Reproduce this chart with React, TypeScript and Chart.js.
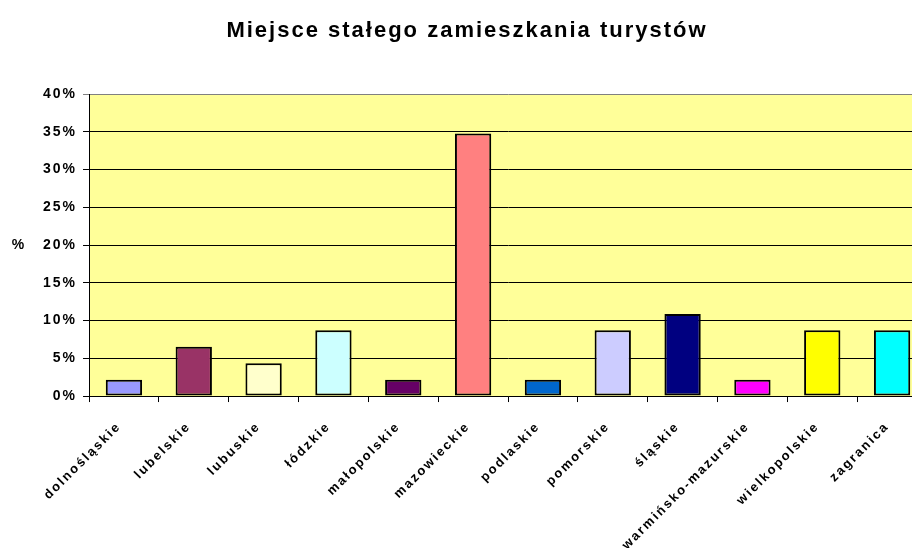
import React, { useEffect, useRef } from "react";
import { Chart, registerables } from "chart.js";

Chart.register(...registerables);

const TITLE = "Miejsce stałego zamieszkania turystów";
const Y_LABEL = "%";
const categories = [
  "dolnośląskie",
  "lubelskie",
  "lubuskie",
  "łódzkie",
  "małopolskie",
  "mazowieckie",
  "podlaskie",
  "pomorskie",
  "śląskie",
  "warmińsko-mazurskie",
  "wielkopolskie",
  "zagranica",
];
const values = [2.17, 6.52, 4.35, 8.7, 2.17, 34.78, 2.17, 8.7, 10.87, 2.17, 8.7, 8.7];
const barColors = [
  "#9999FF",
  "#993366",
  "#FFFFCC",
  "#CCFFFF",
  "#660066",
  "#FF8080",
  "#0066CC",
  "#CCCCFF",
  "#000080",
  "#FF00FF",
  "#FFFF00",
  "#00FFFF",
];
const yTicks = [0, 5, 10, 15, 20, 25, 30, 35, 40];

const FONT = "Arial, 'Liberation Sans', sans-serif";

const setSpacing = (chart: any) => {
  try {
    chart.ctx.letterSpacing = "2px";
  } catch (e) {}
};

const bgPlugin = {
  id: "plotBg",
  beforeInit: setSpacing,
  beforeUpdate: setSpacing,
  beforeLayout: setSpacing,
  beforeDraw(chart: any) {
    setSpacing(chart);
    const { ctx, chartArea } = chart;
    ctx.save();
    ctx.fillStyle = "#FFFF99";
    ctx.fillRect(chartArea.left, chartArea.top, chartArea.right - chartArea.left, chartArea.bottom - chartArea.top);
    ctx.restore();
  },
  afterDraw(chart: any) {
    const { ctx } = chart;
    const y = chart.scales.y;
    ctx.save();
    ctx.fillStyle = "#000";
    ctx.font = `bold 14px ${FONT}`;
    ctx.textAlign = "center";
    ctx.textBaseline = "middle";
    ctx.fillText(Y_LABEL, 11, y.getPixelForValue(20));
    ctx.font = `bold 22px ${FONT}`;
    ctx.textBaseline = "alphabetic";
    ctx.fillText(TITLE, 459, 29);
    ctx.restore();
  },
};

export default function App() {
  const ref = useRef<HTMLCanvasElement>(null);
  useEffect(() => {
    if (!ref.current) return;
    const chart = new Chart(ref.current, {
      type: "bar",
      data: {
        labels: categories,
        datasets: [
          {
            data: values,
            backgroundColor: barColors,
            borderColor: "#000",
            borderWidth: 2,
            borderSkipped: false,
            categoryPercentage: 1,
            barPercentage: 0.52,
          },
        ],
      },
      options: {
        responsive: false,
        animation: false,
        layout: { padding: { left: 29, right: 11, top: 86, bottom: 0 } },
        plugins: {
          legend: { display: false },
          tooltip: { enabled: false },
          title: { display: false },
        },
        scales: {
          x: {
            grid: {
              offset: true,
              drawOnChartArea: false,
              drawTicks: true,
              tickLength: 6,
              color: "#000",
            },
            border: { color: "#000", width: 1 },
            ticks: {
              color: "#000",
              font: { family: FONT, size: 13, weight: "bold" },
              minRotation: 45,
              maxRotation: 45,
              autoSkip: false,
              padding: 17,
              labelOffset: -5,
            },
          },
          y: {
            min: 0,
            max: 40,
            afterBuildTicks(scale: any) {
              scale.ticks = yTicks.map((v) => ({ value: v }));
            },
            grid: {
              color: (c: any) => (c.tick && c.tick.value === 40 ? "#808080" : "#000"),
              lineWidth: 1,
              tickLength: 6,
            },
            border: { color: "#000", width: 1 },
            ticks: {
              color: "#000",
              font: { family: FONT, size: 14, weight: "bold" },
              padding: 6,
              callback: (v: any) => `${v}%`,
            },
          },
        },
      },
      plugins: [bgPlugin],
    });
    return () => chart.destroy();
  }, []);
  return (
    <div style={{ width: 912, height: 540, overflow: "hidden" }}>
      <canvas ref={ref} width={930} height={562} style={{ display: "block" }} />
    </div>
  );
}
